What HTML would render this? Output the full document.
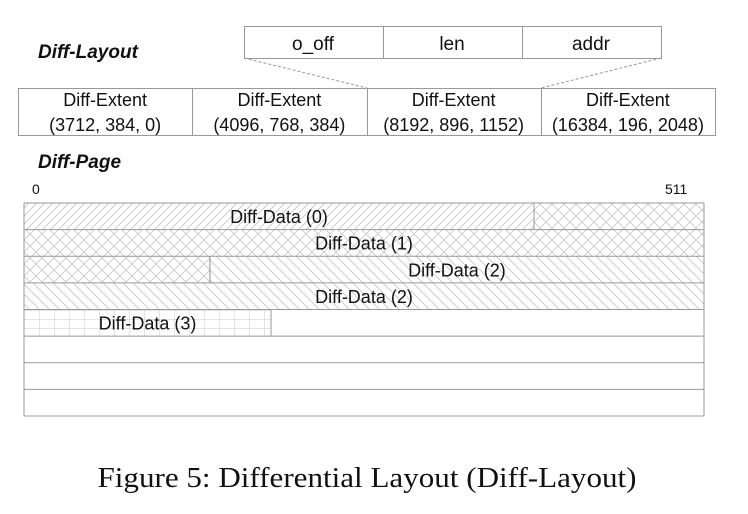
<!DOCTYPE html>
<html><head><meta charset="utf-8"><style>
html,body{margin:0;padding:0;background:#fff;}
svg{display:block;}
text{font-family:"Liberation Sans","DejaVu Sans",sans-serif;fill:#111;}
</style></head><body>
<svg id="fig" width="748" height="514" viewBox="0 0 748 514">
<defs>
<pattern id="p-fwd" patternUnits="userSpaceOnUse" width="8" height="8"><path d="M-1,9 L9,-1 M-1,1 L1,-1 M7,9 L9,7" stroke="#c4c4c4" stroke-width="0.8"/></pattern>
<pattern id="p-back" patternUnits="userSpaceOnUse" width="10" height="10"><path d="M-1,-1 L11,11 M-1,9 L1,11 M9,-1 L11,1" stroke="#c4c4c4" stroke-width="0.8"/></pattern>
<pattern id="p-cross" patternUnits="userSpaceOnUse" width="12" height="12"><path d="M0,0 L12,12 M12,0 L0,12" stroke="#c8c8c8" stroke-width="0.8"/></pattern>
<pattern id="p-grid" patternUnits="userSpaceOnUse" width="15" height="9" x="24" y="310"><path d="M0,0 V9 M0,0 H15" stroke="#c8c8c8" stroke-width="1"/></pattern>
</defs>

<text x="38" y="58" font-size="19" font-weight="bold" font-style="italic">Diff-Layout</text>

<g>
<rect x="244.5" y="26.5" width="417" height="32" fill="#fff" stroke="#999"/>
<line x1="383.5" y1="26" x2="383.5" y2="59" stroke="#999"/>
<line x1="522.5" y1="26" x2="522.5" y2="59" stroke="#999"/>
<text x="313" y="50" font-size="19" text-anchor="middle">o_off</text>
<text x="452" y="50" font-size="19" text-anchor="middle">len</text>
<text x="591" y="50" font-size="19" text-anchor="middle">addr</text>
</g>
<line x1="244" y1="58" x2="367" y2="88" stroke="#999" stroke-dasharray="3,2"/>
<line x1="661" y1="58" x2="541" y2="88" stroke="#999" stroke-dasharray="3,2"/>

<g>
<rect x="18.5" y="88.5" width="697" height="47" fill="#fff" stroke="#999"/>
<line x1="192.5" y1="88" x2="192.5" y2="136" stroke="#999"/>
<line x1="367.5" y1="88" x2="367.5" y2="136" stroke="#999"/>
<line x1="541.5" y1="88" x2="541.5" y2="136" stroke="#999"/>
</g>
<g id="extents"></g>

<text x="38" y="168" font-size="19" font-weight="bold" font-style="italic">Diff-Page</text>
<text x="32" y="194" font-size="14">0</text>
<text x="665" y="194" font-size="14">511</text>

<g id="page"></g>

<text x="367" y="487" font-size="29" text-anchor="middle" textLength="539" lengthAdjust="spacingAndGlyphs" style="font-family:'Liberation Serif',serif">Figure 5: Differential Layout (Diff-Layout)</text>
</svg>
<script>
const extentOffsets=[3712,4096,8192,16384];
const extentLens=[384,768,896,196];
const extentAddrs=[0,384,1152,2048];
const segRows=[0,0,1,2,2,3,4];
const segStarts=[0,384,0,0,140,0,0];
const segEnds=[384,512,512,140,512,512,186];
const segPatterns=['p-fwd','p-cross','p-cross','p-cross','p-back','p-back','p-grid'];
const segLabels=['Diff-Data (0)','','Diff-Data (1)','','Diff-Data (2)','Diff-Data (2)','Diff-Data (3)'];
const pageSize=512, rowCount=8;

const NS='http://www.w3.org/2000/svg';
const x0=24,x1=704,y0=203,rowH=26.625;
const xs=v=>x0+(x1-x0)*v/pageSize;
const ys=r=>y0+r*rowH;

const eg=document.getElementById('extents');
const cellW=(715-18)/4;
extentOffsets.forEach((o,i)=>{
  const cx=18+cellW*(i+0.5);
  const t1=document.createElementNS(NS,'text');
  t1.setAttribute('x',cx);t1.setAttribute('y',106);t1.setAttribute('font-size','18');t1.setAttribute('text-anchor','middle');
  t1.textContent='Diff-Extent';
  
  
  eg.appendChild(t1);
  const t2=document.createElementNS(NS,'text');
  t2.setAttribute('x',cx);t2.setAttribute('y',131);t2.setAttribute('font-size','18');t2.setAttribute('text-anchor','middle');
  t2.textContent='('+o+', '+extentLens[i]+', '+extentAddrs[i]+')';
  
  
  eg.appendChild(t2);
});

const pg=document.getElementById('page');
segRows.forEach((r,i)=>{
  const rect=document.createElementNS(NS,'rect');
  rect.setAttribute('x',xs(segStarts[i]));rect.setAttribute('y',ys(r));
  rect.setAttribute('width',xs(segEnds[i])-xs(segStarts[i]));rect.setAttribute('height',rowH);
  rect.setAttribute('fill','url(#'+segPatterns[i]+')');
  
  
  pg.appendChild(rect);
});
for(let r=0;r<=rowCount;r++){
  const l=document.createElementNS(NS,'line');
  l.setAttribute('x1',x0);l.setAttribute('x2',x1);l.setAttribute('y1',ys(r));l.setAttribute('y2',ys(r));
  l.setAttribute('stroke','#999');
  
  
  pg.appendChild(l);
}
[x0,x1].forEach(x=>{
  const l=document.createElementNS(NS,'line');
  l.setAttribute('x1',x);l.setAttribute('x2',x);l.setAttribute('y1',y0);l.setAttribute('y2',ys(rowCount));
  l.setAttribute('stroke','#999');
  
  
  pg.appendChild(l);
});
segRows.forEach((r,i)=>{
  [segStarts[i],segEnds[i]].forEach(v=>{
    if(v<=0||v>=pageSize)return;
    const l=document.createElementNS(NS,'line');
    l.setAttribute('x1',xs(v));l.setAttribute('x2',xs(v));l.setAttribute('y1',ys(r));l.setAttribute('y2',ys(r+1));
    l.setAttribute('stroke','#999');
    
    
    pg.appendChild(l);
  });
});
segRows.forEach((r,i)=>{
  if(!segLabels[i])return;
  const t=document.createElementNS(NS,'text');
  t.setAttribute('x',(xs(segStarts[i])+xs(segEnds[i]))/2);t.setAttribute('y',ys(r)+20);
  t.setAttribute('font-size','18');t.setAttribute('text-anchor','middle');
  t.textContent=segLabels[i];
  
  
  pg.appendChild(t);
});
</script>
</body></html>
